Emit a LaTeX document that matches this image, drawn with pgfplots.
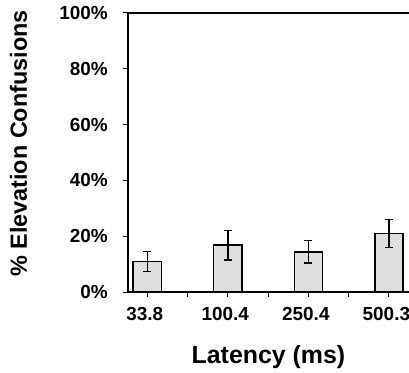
\documentclass[border=0pt]{standalone}
\usepackage{fontspec}
\setmainfont{Liberation Sans}
\usepackage{pgfplots}
\pgfplotsset{compat=1.18}
\usetikzlibrary{calc}
\definecolor{barfill}{HTML}{DEDEDE}
\begin{document}
\begin{tikzpicture}
\begin{axis}[
  scale only axis,
  width=281bp, height=279bp,
  xmin=-0.24, xmax=3.25, ymin=0, ymax=100,
  axis x line*=box, axis y line*=left,
  axis line style={line width=1.6bp, black},
  xtick={0,1,2,3},
  xticklabels={33.8,100.4,250.4,500.3},
  minor xtick={0.5,1.5,2.5},
  ytick={0,20,40,60,80,100},
  yticklabels={0\%,20\%,40\%,60\%,80\%,100\%},
  xtick pos=bottom, ytick pos=left,
  tick align=outside,
  major tick length=5bp, minor tick length=5bp,
  tick style={line width=1bp, black},
  tick label style={font=\fontsize{19}{19}\selectfont\bfseries},
  yticklabel style={anchor=east, inner sep=0pt, xshift=-15bp},
  xticklabel style={anchor=north, inner sep=0pt, yshift=-10bp, xshift=-2.5bp},
  xlabel={Latency (ms)},
  ylabel={\% Elevation Confusions},
  xlabel style={font=\fontsize{25}{25}\selectfont\bfseries, at={($(axis description cs:0.5,0)+(0,-71bp)$)}, anchor=base, inner sep=0pt},
  ylabel style={font=\fontsize{23.5}{23.5}\selectfont\bfseries, at={($(axis description cs:0,0.5)+(-101bp,9bp)$)}, anchor=base, rotate=0, inner sep=0pt},
  clip=false,
]
\addplot[ybar, bar width=0.35, draw=black, fill=barfill, line width=1.5bp,
  error bars/.cd, y dir=both, y explicit,
  error bar style={line width=1.5bp, black},
  error mark options={rotate=90, mark size=4bp, line width=1.5bp, black}]
  coordinates {
  (0,10.9) +- (0,3.6)
  (1,16.8) +- (0,5.3)
  (2,14.4) +- (0,4.0)
  (3,20.9) +- (0,5.0)
  };
\end{axis}
\pgfresetboundingbox
\useasboundingbox (-128bp,-81bp) rectangle (281bp,292bp);
\end{tikzpicture}
\end{document}
